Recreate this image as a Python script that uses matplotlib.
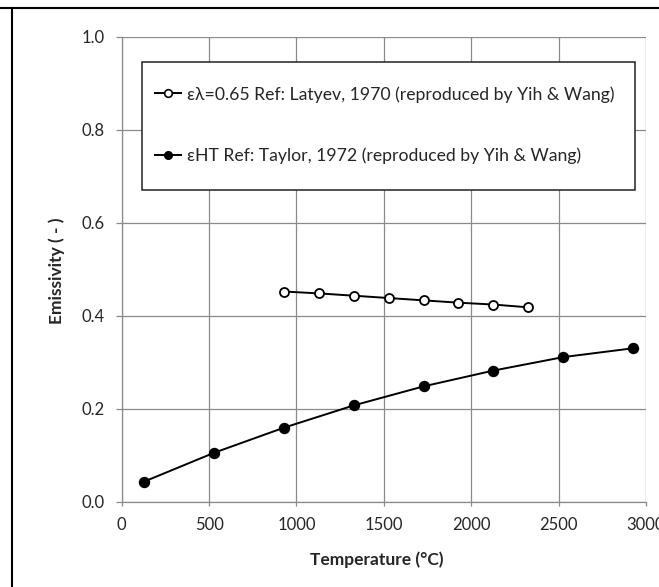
import matplotlib.pyplot as plt
from matplotlib.patches import Rectangle
from matplotlib.lines import Line2D

# datos
temp_lambda = [927, 1127, 1327, 1527, 1727, 1927, 2127, 2327]
emis_lambda = [0.452, 0.448, 0.443, 0.438, 0.433, 0.428, 0.424, 0.418]

temp_ht = [127, 527, 927, 1327, 1727, 2127, 2527, 2927]
emis_ht = [0.043, 0.105, 0.159, 0.207, 0.248, 0.282, 0.311, 0.330]

xticks = [0, 500, 1000, 1500, 2000, 2500, 3000]
yticks = [0.0, 0.2, 0.4, 0.6, 0.8, 1.0]

label_lambda = "\u03b5\u03bb=0.65 Ref: Latyev, 1970 (reproduced by Yih & Wang)"
label_ht = "\u03b5HT Ref: Taylor, 1972 (reproduced by Yih & Wang)"

plt.rcParams['font.family'] = ['Lato', 'DejaVu Sans']
gris = "#8a8a8a"
texto = "#262626"

W, H = 659, 587
fig = plt.figure(figsize=(W / 100, H / 100), dpi=100)
ax = fig.add_axes([121.7 / W, 1 - 501.7 / H, (646 - 121.7) / W, (501.7 - 36.7) / H])

ax.plot(temp_lambda, emis_lambda, color="black", lw=1.4, marker="o", ms=6.5,
        mfc="white", mec="black", mew=1.3, zorder=3, clip_on=False)
ax.plot(temp_ht, emis_ht, color="black", lw=1.4, marker="o", ms=7.2,
        mfc="black", mec="black", zorder=3, clip_on=False)

ax.set_xlim(0, 3000)
ax.set_ylim(0, 1.0)
ax.set_xticks(xticks)
ax.set_yticks(yticks)
ax.set_yticklabels([f"{v:.1f}" for v in yticks])
ax.grid(True, color=gris, lw=0.9)
ax.set_axisbelow(True)
for s in ["top", "right"]:
    ax.spines[s].set_visible(False)
for s in ["left", "bottom"]:
    ax.spines[s].set_color(gris)
    ax.spines[s].set_linewidth(0.9)
ax.tick_params(axis="both", colors=gris, width=0.9, labelsize=12, labelcolor=texto)
ax.tick_params(axis="x", length=3, pad=8)
ax.tick_params(axis="y", length=4.5, pad=8)

# titulos de ejes
fig.text(377 / W, 1 - 560 / H, "Temperature (\u00b0C)", fontsize=12.5, fontweight="bold",
         color=texto, ha="center", va="center")
fig.text(57 / W, 1 - 271 / H, "Emissivity ( - )", fontsize=12.5, fontweight="bold",
         color=texto, ha="center", va="center", rotation=90)

# caja de la leyenda
x0 = (141.7 - 121.7) / 524.3
y1 = (501.7 - 62) / 465
y0 = (501.7 - 190) / 465
ax.add_patch(Rectangle((x0, y0), 0.979 - x0, y1 - y0, transform=ax.transAxes,
                       facecolor="white", edgecolor="#222222", lw=1.1, zorder=4))

handles = [
    Line2D([], [], color="black", lw=1.4, marker="o", ms=5.5, mfc="white", mec="black", mew=1.2),
    Line2D([], [], color="black", lw=1.4, marker="o", ms=5.5, mfc="black", mec="black"),
]
leg = ax.legend(handles, [label_lambda, label_ht], loc="upper left",
                bbox_to_anchor=((155 - 121.7) / 524.3, (501.7 - 86) / 465), frameon=False,
                fontsize=12.7, handlelength=1.5, handletextpad=0.3,
                labelspacing=2.55, borderaxespad=0, borderpad=0)
for t in leg.get_texts():
    t.set_color(texto)
leg.set_zorder(5)

# marco exterior
fig.add_artist(Line2D([0, 1], [1 - 8 / H, 1 - 8 / H], transform=fig.transFigure,
                      color="black", lw=1.5))
fig.add_artist(Line2D([11.7 / W, 11.7 / W], [0, 1 - 8 / H], transform=fig.transFigure,
                      color="black", lw=1.5))

fig.savefig("out.png", dpi=100)
